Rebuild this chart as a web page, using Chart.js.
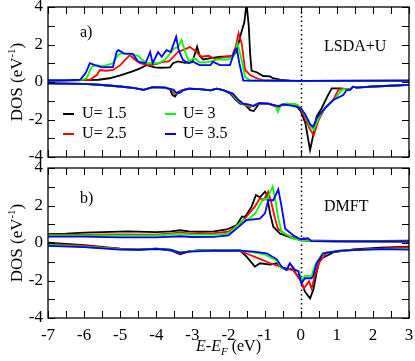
<!DOCTYPE html>
<html>
<head>
<meta charset="utf-8">
<script src="https://cdn.jsdelivr.net/npm/chart.js@4"></script>
<style>
  body { margin: 0; background: #fff; }
  #wrap { position: relative; width: 415px; height: 361px; }
  canvas { position: absolute; left: 0; }
  #topChart { top: 0; }
  #botChart { top: 161px; }
</style>
</head>
<body>
<div id="wrap">
  <canvas id="topChart" width="415" height="165"></canvas>
  <canvas id="botChart" width="415" height="200"></canvas>
</div>
<script>
// series: U values and colours
const seriesLabels = ['U= 1.5', 'U= 2.5', 'U= 3', 'U= 3.5'];
const seriesColors = ['#000000', '#ff0000', '#00ff00', '#0000ff'];

// a) LSDA+U, spin up  [E-EF, DOS]
const upA_15 = [[-7,0.08],[-6.5,0.09],[-6,0.1],[-5.6,0.12],[-5.3,0.2],[-5.0,0.35],[-4.68,0.55],[-4.55,0.65],[-4.45,0.73],[-4.27,0.9],[-4.04,0.78],[-3.9,0.76],[-3.62,0.78],[-3.54,1.0],[-3.4,1.1],[-3.2,1.02],[-3.0,1.08],[-2.87,1.88],[-2.8,1.4],[-2.7,1.2],[-2.5,1.27],[-2.2,1.35],[-1.9,1.35],[-1.78,1.6],[-1.68,2.4],[-1.56,3.2],[-1.5,4.2],[-1.44,3.0],[-1.4,1.5],[-1.36,0.6],[-1.22,0.52],[-1.04,0.32],[-0.85,0.3],[-0.77,0.2],[-0.57,0.12],[-0.3,0.07],[0,0.06],[3,0.07]];
const upA_25 = [[-7,0.08],[-6.5,0.09],[-6,0.1],[-5.84,0.12],[-5.65,0.37],[-5.56,0.64],[-5.4,0.6],[-5.2,0.64],[-5.0,0.9],[-4.73,1.44],[-4.6,1.2],[-4.45,1.0],[-4.23,0.9],[-4.0,0.95],[-3.8,1.08],[-3.65,1.1],[-3.4,1.6],[-3.2,1.75],[-3.07,1.86],[-2.95,1.7],[-2.75,1.35],[-2.55,1.4],[-2.35,1.2],[-2.1,1.35],[-1.9,1.4],[-1.8,1.9],[-1.72,2.6],[-1.63,2.0],[-1.54,0.64],[-1.4,0.37],[-1.22,0.2],[-1.0,0.08],[0,0.06],[3,0.07]];
const upA_3 = [[-7,0.08],[-6.5,0.09],[-6.1,0.1],[-5.93,0.2],[-5.79,0.82],[-5.65,0.9],[-5.45,0.85],[-5.2,1.0],[-5.05,1.47],[-4.95,1.52],[-4.7,1.47],[-4.5,1.4],[-4.4,1.2],[-4.25,1.0],[-3.95,1.0],[-3.75,1.2],[-3.62,1.53],[-3.5,1.8],[-3.4,1.85],[-3.3,2.24],[-3.2,1.6],[-3.1,1.1],[-2.95,1.27],[-2.8,1.05],[-2.6,1.05],[-2.3,1.2],[-2.0,1.2],[-1.85,1.4],[-1.75,2.07],[-1.65,1.3],[-1.54,0.28],[-1.4,0.08],[0,0.06],[3,0.07]];
const upA_35 = [[-7,0.08],[-6.5,0.09],[-6.11,0.12],[-5.95,0.5],[-5.84,1.0],[-5.7,0.9],[-5.5,0.78],[-5.2,0.8],[-5.1,1.6],[-5.05,1.7],[-4.9,1.53],[-4.65,1.5],[-4.5,1.08],[-4.3,1.0],[-4.17,1.6],[-4.1,1.0],[-3.95,1.6],[-3.85,1.35],[-3.72,1.7],[-3.6,1.6],[-3.45,2.42],[-3.38,1.7],[-3.26,1.17],[-3.1,1.0],[-2.98,1.08],[-2.8,0.9],[-2.5,0.9],[-2.43,1.08],[-2.24,0.9],[-1.96,0.9],[-1.82,1.7],[-1.77,1.79],[-1.7,1.0],[-1.59,0.08],[0,0.06],[3,0.07]];

// a) LSDA+U, spin down
const dnA_15 = [[-7,-0.07],[-6,-0.1],[-5.5,-0.16],[-5,-0.24],[-4.6,-0.33],[-4.35,-0.42],[-4.1,-0.27],[-3.75,-0.3],[-3.62,-0.4],[-3.55,-0.7],[-3.48,-0.78],[-3.4,-0.55],[-3.3,-0.45],[-3.1,-0.36],[-2.8,-0.38],[-2.5,-0.45],[-2.33,-0.35],[-2.15,-0.43],[-1.95,-0.62],[-1.8,-0.95],[-1.68,-1.15],[-1.55,-1.2],[-1.4,-1.5],[-1.3,-1.55],[-1.15,-1.15],[-0.9,-1.15],[-0.65,-1.3],[-0.4,-1.15],[-0.15,-1.2],[0,-1.55],[0.13,-2.2],[0.26,-3.63],[0.35,-2.8],[0.44,-1.85],[0.58,-1.4],[0.76,-0.69],[0.86,-0.34],[1.1,-0.34],[1.37,-0.4],[1.45,-0.25],[1.55,-0.3],[2,-0.24],[2.5,-0.2],[3,-0.15]];
const dnA_25 = [[-7,-0.07],[-6,-0.1],[-5.5,-0.16],[-5,-0.24],[-4.6,-0.33],[-4.35,-0.42],[-4.1,-0.27],[-3.75,-0.3],[-3.58,-0.42],[-3.48,-0.65],[-3.4,-0.6],[-3.3,-0.45],[-3.1,-0.36],[-2.8,-0.38],[-2.5,-0.45],[-2.33,-0.35],[-2.15,-0.43],[-1.92,-0.62],[-1.77,-0.96],[-1.65,-1.15],[-1.5,-1.25],[-1.4,-1.35],[-1.25,-1.2],[-0.9,-1.15],[-0.65,-1.35],[-0.4,-1.15],[-0.15,-1.2],[0,-1.45],[0.1,-1.85],[0.25,-2.5],[0.36,-2.83],[0.5,-2.0],[0.67,-1.4],[0.9,-0.96],[1.04,-0.43],[1.1,-0.36],[1.37,-0.4],[1.45,-0.25],[1.55,-0.3],[2,-0.24],[2.5,-0.2],[3,-0.15]];
const dnA_3 = [[-7,-0.07],[-6,-0.1],[-5.5,-0.16],[-5,-0.24],[-4.6,-0.33],[-4.35,-0.42],[-4.1,-0.27],[-3.75,-0.3],[-3.55,-0.42],[-3.45,-0.62],[-3.36,-0.58],[-3.28,-0.45],[-3.1,-0.36],[-2.8,-0.38],[-2.5,-0.45],[-2.33,-0.35],[-2.15,-0.43],[-1.9,-0.62],[-1.75,-0.96],[-1.62,-1.15],[-1.48,-1.22],[-1.35,-1.3],[-1.2,-1.15],[-0.9,-1.15],[-0.7,-1.25],[-0.63,-1.6],[-0.55,-1.2],[-0.3,-1.15],[-0.1,-1.2],[0,-1.4],[0.12,-1.75],[0.25,-2.35],[0.36,-2.56],[0.5,-1.9],[0.7,-1.3],[0.95,-0.9],[1.13,-0.43],[1.2,-0.38],[1.37,-0.4],[1.45,-0.25],[1.55,-0.3],[2,-0.24],[2.5,-0.2],[3,-0.15]];
const dnA_35 = [[-7,-0.07],[-6,-0.1],[-5.5,-0.16],[-5,-0.24],[-4.6,-0.33],[-4.35,-0.42],[-4.1,-0.27],[-3.75,-0.3],[-3.52,-0.42],[-3.43,-0.6],[-3.33,-0.55],[-3.25,-0.43],[-3.1,-0.36],[-2.8,-0.38],[-2.5,-0.45],[-2.33,-0.35],[-2.15,-0.43],[-1.88,-0.62],[-1.72,-0.96],[-1.6,-1.15],[-1.45,-1.2],[-1.3,-1.28],[-1.15,-1.12],[-0.9,-1.15],[-0.6,-1.3],[-0.5,-1.2],[-0.3,-1.25],[-0.1,-1.32],[0,-1.4],[0.12,-1.7],[0.26,-2.25],[0.34,-2.4],[0.45,-1.9],[0.63,-1.49],[0.9,-0.96],[1.18,-0.69],[1.27,-0.43],[1.37,-0.42],[1.45,-0.25],[1.55,-0.3],[2,-0.24],[2.5,-0.2],[3,-0.15]];

// b) DMFT, spin up
const upB_15 = [[-7,0.48],[-6.5,0.5],[-6,0.55],[-5.5,0.58],[-4.8,0.62],[-4,0.58],[-3.6,0.62],[-3.34,0.68],[-3.1,0.62],[-2.8,0.6],[-2.4,0.62],[-2.05,0.72],[-1.77,0.96],[-1.63,1.4],[-1.54,1.4],[-1.36,1.94],[-1.24,2.56],[-1.13,2.44],[-0.99,2.74],[-0.94,2.6],[-0.85,1.58],[-0.76,0.87],[-0.57,0.5],[-0.2,0.25],[0,0.16],[0.08,0.25],[0.17,0.12],[0.5,0.12],[1.5,0.1],[3,0.12]];
const upB_25 = [[-7,0.44],[-6,0.45],[-5,0.46],[-4,0.45],[-3.34,0.55],[-3.0,0.5],[-2.4,0.52],[-2.0,0.6],[-1.68,1.05],[-1.54,1.32],[-1.27,1.94],[-1.13,2.38],[-1.02,2.3],[-0.9,2.74],[-0.82,2.2],[-0.71,1.3],[-0.63,0.76],[-0.39,0.43],[0,0.16],[0.2,0.12],[1,0.1],[3,0.08]];
const upB_3 = [[-7,0.4],[-6,0.41],[-5,0.4],[-4,0.4],[-3.34,0.5],[-3.0,0.45],[-2.4,0.45],[-2.0,0.5],[-1.6,1.22],[-1.46,1.25],[-1.25,1.6],[-1.04,2.38],[-0.94,2.3],[-0.78,3.0],[-0.71,2.4],[-0.62,1.3],[-0.53,0.6],[-0.21,0.25],[0,0.14],[0.5,0.1],[3,0.07]];
const upB_35 = [[-7,0.34],[-6,0.34],[-5,0.3],[-4,0.3],[-3.34,0.36],[-3.0,0.32],[-2.4,0.33],[-2.0,0.4],[-1.5,1.22],[-1.13,1.3],[-0.99,1.58],[-0.9,2.28],[-0.76,2.28],[-0.62,2.86],[-0.53,1.94],[-0.43,0.76],[-0.2,0.4],[0,0.2],[0.2,0.25],[0.3,0.1],[1,0.08],[3,0.07]];

// b) DMFT, spin down
const dnB_15 = [[-7,0.02],[-6,-0.12],[-5,-0.3],[-4.5,-0.35],[-4,-0.3],[-3.6,-0.4],[-3.34,-0.6],[-3.1,-0.45],[-2.8,-0.38],[-2.2,-0.4],[-1.68,-0.4],[-1.5,-0.73],[-1.27,-1.26],[-1.13,-1.08],[-0.85,-1.15],[-0.66,-1.08],[-0.48,-1.33],[-0.2,-1.44],[0,-2.0],[0.12,-2.6],[0.26,-2.95],[0.35,-2.49],[0.44,-1.58],[0.53,-0.87],[0.9,-0.5],[1.45,-0.34],[2.2,-0.25],[3,-0.2]];
const dnB_25 = [[-7,-0.05],[-6,-0.15],[-5,-0.32],[-4.5,-0.35],[-4,-0.3],[-3.6,-0.38],[-3.34,-0.55],[-3.1,-0.45],[-2.8,-0.4],[-2.2,-0.4],[-1.68,-0.42],[-1.4,-0.64],[-1.13,-0.85],[-0.85,-1.08],[-0.57,-1.26],[-0.4,-1.44],[-0.25,-1.35],[0,-2.0],[0.09,-2.42],[0.23,-2.04],[0.3,-2.42],[0.4,-1.7],[0.5,-1.08],[0.72,-0.5],[1.5,-0.36],[2.2,-0.3],[3,-0.22]];
const dnB_3 = [[-7,-0.1],[-6,-0.2],[-5,-0.33],[-4.5,-0.35],[-4,-0.3],[-3.6,-0.36],[-3.34,-0.5],[-3.1,-0.45],[-2.8,-0.4],[-2.2,-0.38],[-1.68,-0.4],[-1.3,-0.5],[-1.0,-0.6],[-0.9,-0.7],[-0.66,-0.95],[-0.53,-1.35],[-0.39,-1.44],[-0.3,-1.1],[-0.16,-1.4],[-0.05,-1.5],[0.02,-2.0],[0.12,-1.75],[0.3,-1.75],[0.4,-1.2],[0.6,-0.55],[1.1,-0.41],[2.2,-0.33],[3,-0.33]];
const dnB_35 = [[-7,-0.15],[-6,-0.22],[-5,-0.35],[-4.5,-0.36],[-4,-0.32],[-3.6,-0.36],[-3.34,-0.52],[-3.07,-0.46],[-2.4,-0.41],[-1.68,-0.41],[-1.31,-0.46],[-0.94,-0.55],[-0.66,-0.87],[-0.53,-1.26],[-0.39,-1.44],[-0.3,-1.08],[-0.16,-1.44],[-0.07,-1.5],[0.02,-2.15],[0.12,-1.88],[0.3,-1.88],[0.35,-1.75],[0.44,-1.08],[0.63,-0.55],[1.09,-0.41],[2.2,-0.33],[3,-0.35]];

const serif = '"Liberation Serif", "Times New Roman", serif';

function toPts(arr) {
  return arr.map(p => ({ x: p[0], y: p[1] }));
}

function makeDatasets(upList, dnList) {
  const ds = [];
  for (let i = 0; i < seriesLabels.length; i++) {
    [upList[i], dnList[i]].forEach(arr => {
      ds.push({
        label: seriesLabels[i],
        data: toPts(arr),
        borderColor: seriesColors[i],
        borderWidth: 1.8,
        pointRadius: 0,
        tension: 0,
        fill: false,
        order: seriesLabels.length - 1 - i   // blue drawn on top
      });
    });
  }
  return ds;
}

// frame, inward ticks, dotted E_F line, labels
const panelDecor = {
  id: 'panelDecor',
  beforeDatasetsDraw(chart) {
    const { ctx, chartArea: a, scales: { x } } = chart;
    const px = Math.round(x.getPixelForValue(0)) + 0.5;
    ctx.save();
    ctx.strokeStyle = '#000';
    ctx.lineWidth = 1.5;
    ctx.setLineDash([1.5, 3]);
    ctx.beginPath();
    ctx.moveTo(px, a.top);
    ctx.lineTo(px, a.bottom);
    ctx.stroke();
    ctx.restore();
  },
  afterDraw(chart, args, opts) {
    const { ctx, chartArea: a, scales: { x, y } } = chart;
    ctx.save();
    ctx.strokeStyle = '#000';
    ctx.lineWidth = 1.3;
    ctx.strokeRect(a.left, a.top, a.right - a.left, a.bottom - a.top);

    ctx.lineWidth = 1;
    ctx.beginPath();
    for (let v = x.min; v <= x.max + 1e-9; v += 0.5) {
      const p = Math.round(x.getPixelForValue(v)) + 0.5;
      ctx.moveTo(p, a.top); ctx.lineTo(p, a.top + 7);
      ctx.moveTo(p, a.bottom); ctx.lineTo(p, a.bottom - 7);
    }
    for (let v = y.min; v <= y.max + 1e-9; v += 1) {
      const p = Math.round(y.getPixelForValue(v)) + 0.5;
      ctx.moveTo(a.left, p); ctx.lineTo(a.left + 7, p);
      ctx.moveTo(a.right, p); ctx.lineTo(a.right - 7, p);
    }
    ctx.stroke();

    ctx.fillStyle = '#000';
    ctx.font = '16px ' + serif;
    ctx.textBaseline = 'middle';
    ctx.textAlign = 'left';
    ctx.fillText(opts.panel, 80, opts.panelY);
    ctx.fillText(opts.method, 324, opts.methodY);

    // y title: DOS (eV^-1)
    const cy = (a.top + a.bottom) / 2;
    ctx.save();
    ctx.translate(16, cy);
    ctx.rotate(-Math.PI / 2);
    const big = '17px ' + serif, small = '11px ' + serif;
    ctx.font = big;
    const w1 = ctx.measureText('DOS (eV').width;
    const w3 = ctx.measureText(')').width;
    ctx.font = small;
    const w2 = ctx.measureText('-1').width;
    let sx = -(w1 + w2 + w3) / 2;
    ctx.textBaseline = 'alphabetic';
    ctx.font = big;
    ctx.fillText('DOS (eV', sx, 6);
    ctx.font = small;
    ctx.fillText('-1', sx + w1, -1);
    ctx.font = big;
    ctx.fillText(')', sx + w1 + w2, 6);
    ctx.restore();

    if (opts.legend) {
      const cols = [[63, 82], [165, 183]];
      const rows = [114, 134];
      ctx.font = '16px ' + serif;
      ctx.textBaseline = 'middle';
      seriesLabels.forEach((lab, i) => {
        const c = cols[Math.floor(i / 2)], r = rows[i % 2];
        ctx.strokeStyle = seriesColors[i];
        ctx.lineWidth = 2;
        ctx.beginPath();
        ctx.moveTo(c[0], r); ctx.lineTo(c[0] + 11, r);
        ctx.stroke();
        ctx.fillText(lab, c[1], r);
      });
    }

    if (opts.xTitle) {
      const bx = (a.left + a.right) / 2;
      const by = opts.xTitleY;
      const it = 'italic 16px ' + serif, rm = '16px ' + serif, sub = 'italic 11px ' + serif;
      ctx.textBaseline = 'alphabetic';
      const parts = [['E', it, 0], ['-', rm, 0], ['E', it, 0], ['F', sub, 4], [' (eV)', rm, 0]];
      let tw = 0;
      parts.forEach(p => { ctx.font = p[1]; tw += ctx.measureText(p[0]).width; });
      let cx = bx - tw / 2;
      parts.forEach(p => {
        ctx.font = p[1];
        ctx.fillText(p[0], cx, by + p[2]);
        cx += ctx.measureText(p[0]).width;
      });
    }
    ctx.restore();
  }
};

// drop the label overflow padding so the plot box lands where intended
function noPad(s) {
  s.paddingTop = 0; s.paddingBottom = 0; s.paddingLeft = 0; s.paddingRight = 0;
}

function makeChart(id, upList, dnList, decor, showX) {
  return new Chart(document.getElementById(id), {
    type: 'line',
    data: { datasets: makeDatasets(upList, dnList) },
    options: {
      responsive: false,
      animation: false,
      layout: { autoPadding: false, padding: { left: 0, right: 6, top: 7, bottom: showX ? 0 : 8 } },
      plugins: { legend: { display: false }, tooltip: { enabled: false }, panelDecor: decor },
      scales: {
        x: {
          type: 'linear', min: -7, max: 3,
          display: showX,
          grid: { display: false, drawTicks: false },
          border: { display: false },
          ticks: { stepSize: 1, padding: 7, color: '#000', font: { family: serif, size: 17 } },
          afterFit: s => { s.height = showX ? 43 : 0; noPad(s); }
        },
        y: {
          min: -4, max: 4,
          grid: { display: false, drawTicks: false },
          border: { display: false },
          ticks: { stepSize: 2, padding: 5, color: '#000', font: { family: serif, size: 17 } },
          afterFit: s => { s.width = 48; noPad(s); }
        }
      }
    },
    plugins: [panelDecor]
  });
}

makeChart('topChart', [upA_15, upA_25, upA_3, upA_35], [dnA_15, dnA_25, dnA_3, dnA_35],
  { panel: 'a)', panelY: 33, method: 'LSDA+U', methodY: 47, legend: true }, false);
makeChart('botChart', [upB_15, upB_25, upB_3, upB_35], [dnB_15, dnB_25, dnB_3, dnB_35],
  { panel: 'b)', panelY: 38, method: 'DMFT', methodY: 46, legend: false, xTitle: true, xTitleY: 190 }, true);
</script>
</body>
</html>
